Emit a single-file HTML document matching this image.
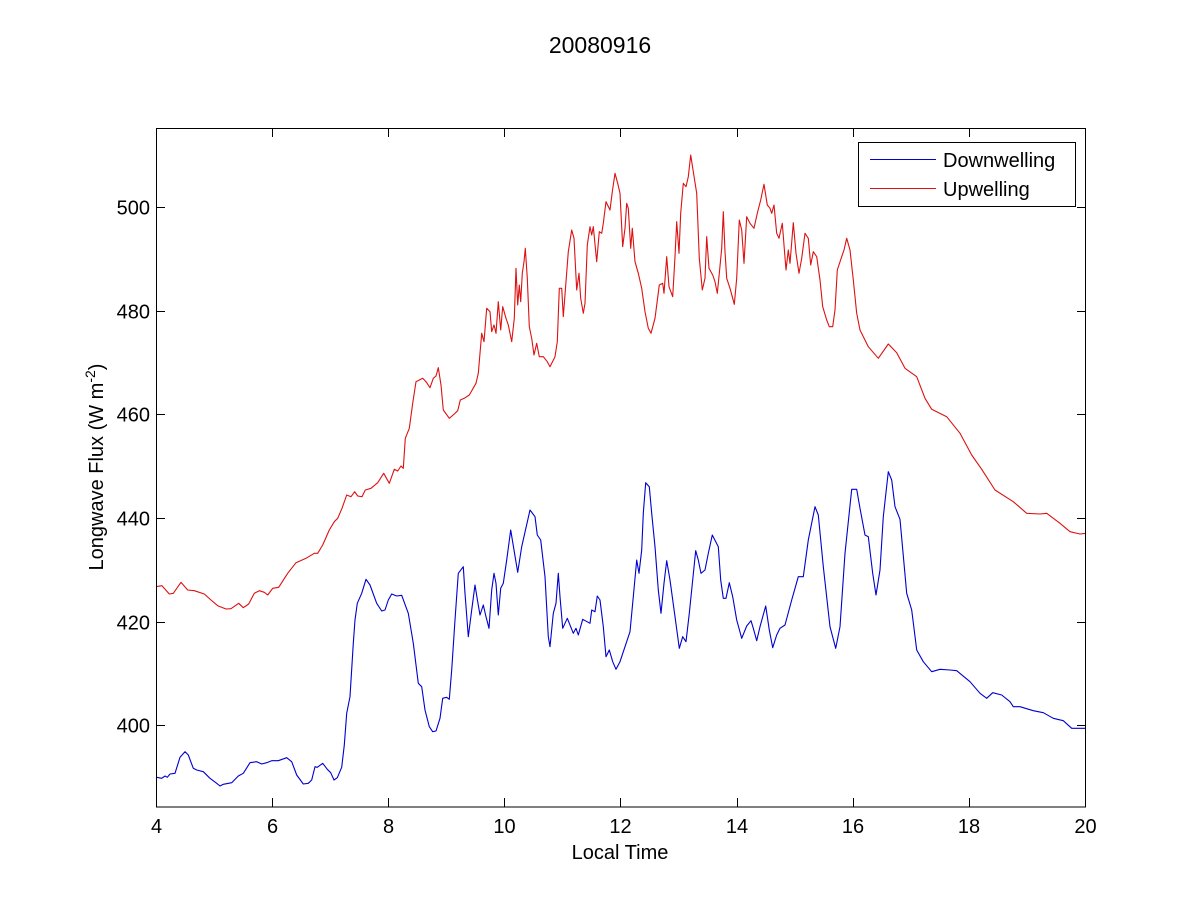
<!DOCTYPE html>
<html>
<head>
<meta charset="utf-8">
<style>
html,body{margin:0;padding:0;background:#fff;}
svg{display:block;}
text{font-family:"Liberation Sans",Arial,sans-serif;fill:#000;}
</style>
</head>
<body>
<svg width="1200" height="900" viewBox="0 0 1200 900" xmlns="http://www.w3.org/2000/svg">
<rect x="0" y="0" width="1200" height="900" fill="#fff"/>
<!-- title -->
<text x="600" y="53" font-size="23" text-anchor="middle">20080916</text>

<!-- series -->
<polyline fill="none" stroke="#dd1111" stroke-width="1.1" stroke-linejoin="round" points="156,586.7 162,585.7 169.3,594 173.3,593.3 181,582.3 187.7,590 194.3,590.7 204.3,594 211,600 217.7,605.7 226,609 231,608.7 238.7,603.3 243.3,607.7 248.7,604 254.3,593.3 259.3,590.7 264.3,592.3 267.7,595 272.7,588.3 278.7,587.3 287.7,573.3 296,562.7 306,558.3 314.3,553.3 317.7,553.3 322.7,545 329.3,530 334.3,521.7 337.7,518.3 342,508.3 346.7,495 351,496.7 354.7,491.7 357.7,496 362,496.7 365.3,490 371,488.3 377.7,482.7 383.7,473.3 389.3,483.3 394.3,469.3 397.7,471 401,466 403.3,468.3 405.3,438.3 409.3,428.3 412.7,403.3 416,381.7 419.3,380 422.7,378.3 426,381.7 430,387.7 433.3,378.3 436,376 438.3,367.7 441,385 443.3,410 449.3,418.3 454.3,414 457.7,410.7 460.3,400 464.3,398.3 469.3,395 476,383.3 478.3,373.3 481.7,333.3 484,341.7 486.7,308.3 490,311.7 491.7,331.7 494,325 496,333.3 498.3,301.7 500.7,330 502.7,306.7 506,318.3 508.3,325 511.7,341.7 514.3,318.3 516,268.3 517.7,305 519.3,285 520.7,301.7 522.3,273.3 524,261.7 525.3,248.3 527.3,278.3 529.3,326.7 531.7,338.3 534,355 536.7,343.3 539.3,356.7 543.3,356.7 547.3,361.7 550,366.7 555,356.7 557.3,341.7 559.3,288.3 561.7,288.3 563.3,316.7 566,281.7 568.3,251.7 571.7,230 574,238.3 576.7,290 579,273.3 580.7,298.3 583.3,313.3 585,303.3 587.3,245 590,226.7 591.7,235 593.3,226.7 596.7,261.7 599.3,231.7 601.7,233.3 603.3,223.3 606,201.7 610,210 612.3,191.7 615,173.3 617.7,183.3 620,193.3 622.7,246.7 625,228.3 626.7,203.3 628.3,208.3 630.7,248.3 632.3,228.3 635,261.7 638.3,273.3 641.7,288.3 645,311.7 648.3,328.3 651,333.3 655,318.3 659.3,285 662.7,283.3 664,293.3 666.7,256.7 669,286.7 672.7,296.7 675,256.7 676.7,221.7 679,253.3 680.7,213.3 683.3,183.3 686,186.7 688.3,176.7 690.7,155 693.3,171.7 696.7,193.3 699.3,258.3 702.3,290 705,278.3 706.7,236.7 709,268.3 712.7,275 715,281.7 717.3,293.3 719.3,273.3 721.7,248.3 723.3,211.7 725,251.7 726.7,278.3 730,288.3 734.3,304.3 736.7,278.3 739.3,220 741.7,230 744,263.3 746.7,216.7 750,223.3 754,228.3 757.3,213.3 760.7,200 764,184.3 767.3,205 770,208.3 771.7,213.3 774,205 776.7,233.3 779,238.3 782.3,223.3 784,245 786,270 788.3,250 790,263.3 793.3,222.7 796,253.3 799,273.3 801.7,258.3 805,233.3 808.3,238.3 810.7,265 813.3,251.7 816.7,256.7 820,280 822.7,306.7 826.7,320 829.3,326.7 832.7,326.7 835,310 837.3,270 841.7,256.7 844,250 846.7,238.3 850,250 853.3,280 856.7,313.3 860,330 868.3,346.7 878.3,358.3 888.3,344 896.7,352.7 905,368.3 916.7,376.7 925,398.3 931.7,409.3 946.7,416.7 960,433.3 971.7,455 981.7,469.3 995,490 1013.3,501.7 1026.7,513.3 1040,514 1046.7,513.3 1060,523.3 1070,531.7 1080,534 1086,533.3"/>

<polyline fill="none" stroke="#0000d0" stroke-width="1.1" stroke-linejoin="round" points="156.7,777.3 161.7,778.3 165,776 167.3,777.3 170,774 175,773.3 180,757.3 185,751.7 188.3,755 193.3,768.3 196.7,770 203.3,771.7 210,778.3 216.7,783.3 220,786 223.3,784.3 231.7,782.7 238.3,776 243.3,773.3 250,762.7 256.7,761.7 261.7,764 266.7,762.7 271.7,760.7 278.3,760.7 286.7,757.7 291.7,761.7 296.7,775 303.3,784 308.3,783.3 311.7,780 315,766.7 317.3,767.3 322.7,763.3 327.3,769.3 330.7,772.7 334,780 337.3,777.7 341.7,767.3 344.3,745 346.7,713.3 350,696.7 353.3,643.3 355,620 357.3,603.3 361.7,593.3 366,579.3 370,585 376.7,603.3 381.7,611 385,610 388.3,600 391.7,594 396.7,596 401.7,595.3 408.3,613.3 413.3,643.3 418.3,683.3 421.7,686.7 425,710 429.3,726.7 432.7,731.7 436,731 440,718.3 442.7,698.3 446.7,697.3 449.3,699.3 451.7,670 455,620 458.3,573.3 463.3,566.7 465,593.3 468.3,636.7 471.7,610 475,585 477.7,601.7 480,615 483.3,605 486,616.7 489,628.3 491.7,590 494,573.3 496,583.3 498.3,615 500.7,588.3 503.3,583.3 506.7,560 510.7,530 514,550 517.7,572.3 521.7,546.7 530,510 535,516.7 537.3,535 540.7,540 545,576.7 548.3,636.7 550,646.7 553.3,613.3 556,603.3 558.3,573.3 560,596.7 562.7,628.3 567.3,618.3 573.3,633.3 576,628.3 578.3,635 582.7,619.3 590,623.3 591.7,610 595,611.7 597.3,596 600,600 603.3,626.7 606,656.7 609.3,650 612.7,661.7 616,669.3 620,661.7 625,646.7 630,631.7 633.3,596.7 636.7,560 639,573.3 641.7,550 643.3,513.3 645.7,482.7 649.3,486.7 651.7,513.3 655,546.7 658.3,590 661,613.3 664,583.3 666.7,560.7 670,580 675,616.7 679.3,648.3 682.7,636.7 686,641.7 689.3,613.3 692.7,580 695.7,550.7 698.3,560 701,573.3 705,570 708.3,553.3 712.3,535 718.3,546.7 720.7,580 723.3,598.3 726,598.3 729.3,582.7 732.7,596.7 736.7,620 741.7,638.3 746.7,626 751,620.7 753.3,628.3 756.7,640.7 760,626.7 765.7,606 769.3,630 772.7,647.7 776.7,635 780,628.3 785,625 791.7,600 798.3,576.7 803.3,576.7 808.3,540 815,506.7 818.3,515 823.3,566.7 830,626.7 835.7,648.3 840,626.7 845,553.3 851.7,489.3 856.7,489.3 860,508.3 865,535 868.3,536.7 872.7,573.3 876,595 880,570 883.3,516.7 888.3,471.7 891.7,480 895,506.7 900,519.3 906.7,593.3 911.7,610 916.7,650 923.3,661.7 931.7,671.7 940,669.3 950,670 956.7,670.7 970,681.7 980,693.3 986.7,698.3 992.7,692.7 1001.7,695 1010,701.7 1013.3,706.7 1020,706.7 1033.3,710.7 1043.3,712.7 1053.3,718.3 1063.3,720.7 1071.7,728.3 1086,728.3"/>

<!-- axes box -->
<rect x="156.5" y="128.5" width="929" height="678.5" fill="none" stroke="#000" stroke-width="1"/>

<!-- x ticks -->
<g stroke="#000" stroke-width="1">
<line x1="272.5" y1="807" x2="272.5" y2="798"/><line x1="272.5" y1="128" x2="272.5" y2="137"/>
<line x1="388.5" y1="807" x2="388.5" y2="798"/><line x1="388.5" y1="128" x2="388.5" y2="137"/>
<line x1="504.5" y1="807" x2="504.5" y2="798"/><line x1="504.5" y1="128" x2="504.5" y2="137"/>
<line x1="620.5" y1="807" x2="620.5" y2="798"/><line x1="620.5" y1="128" x2="620.5" y2="137"/>
<line x1="737.5" y1="807" x2="737.5" y2="798"/><line x1="737.5" y1="128" x2="737.5" y2="137"/>
<line x1="853.5" y1="807" x2="853.5" y2="798"/><line x1="853.5" y1="128" x2="853.5" y2="137"/>
<line x1="969.5" y1="807" x2="969.5" y2="798"/><line x1="969.5" y1="128" x2="969.5" y2="137"/>
<!-- y ticks -->
<line x1="156" y1="207.5" x2="165" y2="207.5"/><line x1="1086" y1="207.5" x2="1077" y2="207.5"/>
<line x1="156" y1="311.5" x2="165" y2="311.5"/><line x1="1086" y1="311.5" x2="1077" y2="311.5"/>
<line x1="156" y1="414.5" x2="165" y2="414.5"/><line x1="1086" y1="414.5" x2="1077" y2="414.5"/>
<line x1="156" y1="518.5" x2="165" y2="518.5"/><line x1="1086" y1="518.5" x2="1077" y2="518.5"/>
<line x1="156" y1="622.5" x2="165" y2="622.5"/><line x1="1086" y1="622.5" x2="1077" y2="622.5"/>
<line x1="156" y1="725.5" x2="165" y2="725.5"/><line x1="1086" y1="725.5" x2="1077" y2="725.5"/>
</g>

<!-- x tick labels -->
<g font-size="20" text-anchor="middle">
<text x="156.5" y="833">4</text>
<text x="272.5" y="833">6</text>
<text x="388.5" y="833">8</text>
<text x="504.5" y="833">10</text>
<text x="620.5" y="833">12</text>
<text x="737" y="833">14</text>
<text x="853" y="833">16</text>
<text x="969" y="833">18</text>
<text x="1085.5" y="833">20</text>
</g>
<!-- y tick labels -->
<g font-size="20" text-anchor="end">
<text x="150" y="214.5">500</text>
<text x="150" y="318.5">480</text>
<text x="150" y="421.5">460</text>
<text x="150" y="525.5">440</text>
<text x="150" y="629.5">420</text>
<text x="150" y="732.5">400</text>
</g>

<!-- axis labels -->
<text x="620" y="859" font-size="20" text-anchor="middle">Local Time</text>
<g transform="translate(103,467) rotate(-90)">
<text x="0" y="0" font-size="20" text-anchor="middle">Longwave Flux (W m<tspan dy="-8" font-size="14">-2</tspan><tspan dy="8">)</tspan></text>
</g>

<!-- legend -->
<rect x="858.5" y="142.5" width="217" height="64" fill="#fff" stroke="#000" stroke-width="1"/>
<line x1="870" y1="159.5" x2="936" y2="159.5" stroke="#0000d0" stroke-width="1.1"/>
<line x1="870" y1="188.5" x2="936" y2="188.5" stroke="#dd1111" stroke-width="1.1"/>
<text x="943" y="167" font-size="20">Downwelling</text>
<text x="943" y="196" font-size="20">Upwelling</text>
</svg>
</body>
</html>
